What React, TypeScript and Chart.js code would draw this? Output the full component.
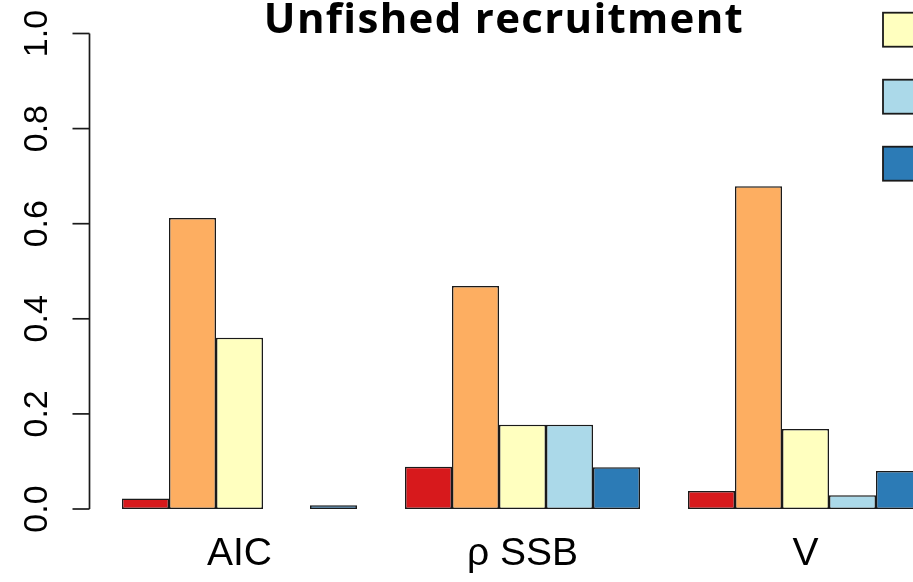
import React, { useEffect, useRef } from "react";
import { Chart, registerables } from "chart.js";

Chart.register(...registerables);

const categories = ["AIC", "\u03C1 SSB", "V"];
const seriesLabels = ["Series 1", "Series 2", "Series 3", "Series 4", "Series 5"];
const seriesColors = ["#D7191C", "#FDAE61", "#FFFFBF", "#ABD9E9", "#2C7BB6"];
const series1 = [0.022, 0.089, 0.038];
const series2 = [0.612, 0.469, 0.679];
const series3 = [0.36, 0.177, 0.168];
const series4 = [0.0, 0.177, 0.029];
const series5 = [0.008, 0.088, 0.08];
const seriesValues = [series1, series2, series3, series4, series5];
const yTicks = [0, 0.2, 0.4, 0.6, 0.8, 1.0];
const title = "Unfished recruitment";

const customPlugin = {
  id: "rstyle",
  afterDraw(chart: any) {
    const ctx = chart.ctx as CanvasRenderingContext2D;
    const y = chart.scales.y;
    ctx.save();
    // y axis
    const axisX = chart.chartArea.left - 8.5;
    ctx.strokeStyle = "#1a1a1a";
    ctx.lineWidth = 1.7;
    ctx.beginPath();
    ctx.moveTo(axisX, y.getPixelForValue(yTicks[0]));
    ctx.lineTo(axisX, y.getPixelForValue(yTicks[yTicks.length - 1]));
    ctx.stroke();
    ctx.font = "34px 'Liberation Sans', Arial, sans-serif";
    ctx.fillStyle = "#000";
    ctx.textAlign = "center";
    ctx.textBaseline = "middle";
    for (const t of yTicks) {
      const py = y.getPixelForValue(t);
      ctx.beginPath();
      ctx.moveTo(axisX - 17, py);
      ctx.lineTo(axisX, py);
      ctx.stroke();
      ctx.save();
      ctx.translate(38, py);
      ctx.rotate(-Math.PI / 2);
      ctx.fillText(t.toFixed(1), 0, 0);
      ctx.restore();
    }
    // title
    ctx.font = "bold 42px 'Open Sans', sans-serif";
    (ctx as any).letterSpacing = "1.3px";
    ctx.textAlign = "center";
    ctx.textBaseline = "alphabetic";
    ctx.fillText(title, 504, 33);
    (ctx as any).letterSpacing = "0px";
    // legend (mostly outside the visible area)
    ctx.lineWidth = 1.8;
    chart.data.datasets.forEach((ds: any, i: number) => {
      const cy = 29.7 + (i - 2) * 67;
      ctx.fillStyle = ds.backgroundColor;
      ctx.fillRect(883, cy - 17, 50, 34);
      ctx.strokeStyle = "#1a1a1a";
      ctx.strokeRect(883, cy - 17, 50, 34);
      ctx.fillStyle = "#000";
      ctx.font = "30px 'Liberation Sans', Arial, sans-serif";
      ctx.textAlign = "left";
      ctx.textBaseline = "middle";
      ctx.fillText(ds.label, 950, cy);
    });
    ctx.restore();
  },
};

export default function App() {
  const ref = useRef<HTMLCanvasElement>(null);
  useEffect(() => {
    if (!ref.current) return;
    const chart = new Chart(ref.current, {
      type: "bar",
      data: {
        labels: categories,
        datasets: seriesValues.map((vals, i) => ({
          label: seriesLabels[i],
          data: vals,
          backgroundColor: seriesColors[i],
          borderColor: "#1a1a1a",
          borderWidth: 1.5,
          borderSkipped: false,
          barPercentage: 1,
          categoryPercentage: 235 / 283,
        })),
      },
      options: {
        responsive: false,
        animation: false,
        devicePixelRatio: 1,
        layout: { padding: { left: 98, right: 53, top: 33.5, bottom: 0 } },
        plugins: { legend: { display: false }, tooltip: { enabled: false }, title: { display: false } },
        scales: {
          x: {
            grid: { display: false, drawTicks: false },
            border: { display: false },
            afterFit: (scale: any) => {
              scale.height = 73;
            },
            ticks: {
              color: "#000",
              padding: 22,
              font: { family: "'Liberation Sans', Arial, sans-serif", size: 39 },
            },
          },
          y: {
            display: false,
            min: 0,
            max: 1,
          },
        },
      },
      plugins: [customPlugin],
    });
    return () => chart.destroy();
  }, []);
  return (
    <div style={{ position: "fixed", left: 0, top: 0, width: 913, height: 582, overflow: "hidden", background: "#fff" }}>
      <canvas ref={ref} width={1000} height={582} style={{ display: "block" }} />
    </div>
  );
}
